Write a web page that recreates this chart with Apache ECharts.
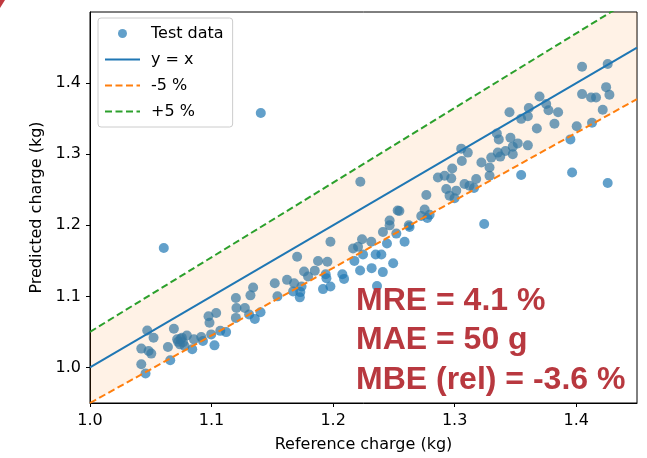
<!DOCTYPE html>
<html>
<head>
<meta charset="utf-8">
<script src="https://cdn.jsdelivr.net/npm/echarts@6/dist/echarts.min.js"></script>
<style>html,body{margin:0;padding:0;background:#fff;}#c{width:647px;height:458px;}</style>
</head>
<body>
<div id="c"></div>
<script>
// ---- data ----
var xTicks = [1.0, 1.1, 1.2, 1.3, 1.4];
var yTicks = [1.0, 1.1, 1.2, 1.3, 1.4];
var lineX = [1.0, 1.45];
var lowerFactor = 0.95;
var upperFactor = 1.05;
var testData = [
  [1.0422,1.0046],[1.0457,0.9916],[1.0422,1.0265],[1.0482,1.0232],[1.0504,1.0195],[1.0471,1.052],[1.0523,1.0418],
  [1.0641,1.0288],[1.066,1.0102],[1.069,1.0544],[1.0717,1.0395],[1.074,1.0325],[1.0756,1.0418],[1.0778,1.0302],
  [1.0797,1.045],[1.0841,1.0255],[1.0855,1.0395],[1.0915,1.0428],[1.0929,1.0372],[1.0975,1.0721],[1.0983,1.0628],
  [1.0997,1.0465],[1.1024,1.0311],[1.1038,1.0767],[1.0725,1.036],[1.0765,1.0355],[1.0745,1.040],[1.1072,1.0515],[1.112,1.0497],
  [1.12,1.0976],[1.1205,1.0837],[1.12,1.0697],[1.1274,1.0837],[1.132,1.1014],[1.1342,1.1125],[1.1309,1.0744],[1.1356,1.0683],
  [1.1403,1.0777],[1.152,1.1185],[1.1542,1.1],[1.1621,1.1232],[1.1671,1.107],[1.1679,1.1185],[1.1704,1.1558],[1.1726,1.0986],
  [1.174,1.1139],[1.173,1.106],[1.1761,1.1349],[1.1794,1.1279],[1.1849,1.1362],[1.1876,1.1497],[1.1953,1.1488],[1.1978,1.1767],
  [1.1917,1.1102],[1.1978,1.1139],[1.1945,1.1255],[1.1939,1.1311],[1.2076,1.1311],[1.209,1.1246],
  [1.2164,1.1674],[1.2205,1.1697],[1.2238,1.1803],[1.2246,1.159],[1.2175,1.1499],[1.2222,1.1364],[1.2317,1.1397],[1.2361,1.1146],
  [1.235,1.159],[1.2397,1.159],[1.2409,1.1341],[1.2494,1.1466],[1.2314,1.1767],[1.2443,1.1743],[1.241,1.1906],[1.2465,1.1999],
  [1.2465,1.2068],[1.252,1.1883],[1.2531,1.2209],[1.2545,1.22],[1.2588,1.1767],[1.2629,1.1976],[1.2623,1.2],[1.2725,1.213],
  [1.2753,1.2222],[1.2767,1.2427],[1.2775,1.2102],[1.2794,1.2148],[1.2862,1.2673],[1.2917,1.2696],[1.2972,1.266],[1.2931,1.251],
  [1.298,1.2799],[1.2958,1.2417],[1.2999,1.238],[1.3013,1.2487],[1.3054,1.3078],[1.3059,1.2905],[1.3108,1.3022],[1.3081,1.258],
  [1.3122,1.2557],[1.3159,1.2524],[1.3177,1.265],[1.322,1.2883],[1.3287,1.2813],[1.3287,1.2696],[1.3301,1.2952],[1.3347,1.3291],
  [1.3363,1.3208],[1.3355,1.3022],[1.3375,1.2966],[1.3418,1.3045],[1.3459,1.3231],[1.3478,1.3106],[1.3478,1.2999],[1.3519,1.3152],
  [1.3602,1.3124],[1.3451,1.3589],[1.3547,1.3497],[1.3602,1.3533],[1.361,1.365],[1.3676,1.3361],[1.3698,1.3812],[1.3753,1.3706],
  [1.3772,1.3617],[1.3821,1.3427],[1.3851,1.3589],[1.4004,1.3393],[1.4048,1.423],[1.4048,1.3845],[1.4122,1.3798],[1.4163,1.3798],
  [1.413,1.3441],[1.4218,1.3626],[1.4246,1.3943],[1.4273,1.3835],[1.4259,1.4268],
  [1.1405,1.358],[1.0607,1.168],[1.2224,1.2612],[1.3243,1.2019],[1.3547,1.2706],[1.3952,1.3208],[1.3966,1.2743],[1.4259,1.2594]
];
var statLines = ['MRE = 4.1 %', 'MAE = 50 g', 'MBE (rel) = -3.6 %'];

// ---- chart ----
function lineData(f) { return lineX.map(function (x) { return [x, x * f]; }); }
var font = 'DejaVu Sans';
var chart = echarts.init(document.getElementById('c'), null, {renderer: 'canvas'});
var textGraphics = statLines.map(function (t, i) {
  return {type: 'text', left: 356, top: 285 + i * 39.5, z: 100,
    style: {text: t, font: 'bold 32px "Liberation Sans", Arial, sans-serif', fill: '#b8383f'}};
});
textGraphics.push({type: 'polygon', z: 100, shape: {points: [[0,0],[5,0],[0,8]]}, style: {fill: '#c0393f'}});
var hidden = {opacity: 0};
chart.setOption({
  animation: false,
  backgroundColor: '#fff',
  grid: {left: 90, right: 10, top: 12, bottom: 53, show: true, borderColor: '#000', borderWidth: 1, backgroundColor: 'transparent'},
  xAxis: {
    type: 'value', min: 1.0, max: 1.45,
    name: 'Reference charge (kg)', nameLocation: 'middle', nameGap: 34,
    nameTextStyle: {fontFamily: font, fontSize: 16, color: '#000'},
    axisLine: {show: true, lineStyle: {color: '#000', width: 1}},
    axisTick: {show: true, length: 4, lineStyle: {color: '#000'}, customValues: xTicks},
    axisLabel: {fontFamily: font, fontSize: 16, color: '#000', margin: 10, customValues: xTicks,
      formatter: function (v) { return v.toFixed(1); }},
    splitLine: {show: false}
  },
  yAxis: {
    type: 'value', min: 0.95, max: 1.5,
    name: 'Predicted charge (kg)', nameLocation: 'middle', nameGap: 44,
    nameTextStyle: {fontFamily: font, fontSize: 16, color: '#000'},
    axisLine: {show: true, lineStyle: {color: '#000', width: 1}},
    axisTick: {show: true, length: 4, lineStyle: {color: '#000'}, customValues: yTicks},
    axisLabel: {fontFamily: font, fontSize: 16, color: '#000', margin: 9, customValues: yTicks,
      formatter: function (v) { return v.toFixed(1); }},
    splitLine: {show: false}
  },
  legend: {
    orient: 'vertical', left: 98, top: 18,
    padding: [6, 9, 6, 6], itemGap: 7, itemWidth: 35, itemHeight: 9,
    backgroundColor: 'rgba(255,255,255,0.8)', borderColor: '#cccccc', borderWidth: 1, borderRadius: 3,
    textStyle: {fontFamily: font, fontSize: 16, color: '#000', lineHeight: 19, padding: [0, 0, 0, 6]},
    z: 50,
    data: [
      {name: 'Test data', icon: 'circle'},
      {name: 'y = x', itemStyle: hidden},
      {name: '-5 %', itemStyle: hidden},
      {name: '+5 %', itemStyle: hidden}
    ]
  },
  graphic: textGraphics,
  series: [
    {
      name: 'Test data', type: 'scatter', data: testData, symbolSize: 10, z: 1,
      itemStyle: {color: '#1f77b4', opacity: 0.7}
    },
    {
      name: 'band', type: 'custom', z: 2, silent: true, data: [[lineX[0], lineX[1]]],
      renderItem: function (params, api) {
        var pts = [[lineX[0], lineX[0] * lowerFactor], [lineX[1], lineX[1] * lowerFactor],
                   [lineX[1], lineX[1] * upperFactor], [lineX[0], lineX[0] * upperFactor]].map(function (p) { return api.coord(p); });
        var cs = params.coordSys;
        return {type: 'group', clipPath: {type: 'rect', shape: {x: cs.x, y: cs.y, width: cs.width, height: cs.height}},
          children: [{type: 'polygon', shape: {points: pts}, style: {fill: 'rgba(255,127,14,0.1)', stroke: null}}]};
      }
    },
    {
      name: 'y = x', type: 'line', data: lineData(1), symbol: 'none', z: 3,
      lineStyle: {color: '#1f77b4', width: 2}, itemStyle: {color: '#1f77b4'}
    },
    {
      name: '-5 %', type: 'line', data: lineData(lowerFactor), symbol: 'none', z: 3,
      lineStyle: {color: '#ff7f0e', width: 2, type: [7, 3.5]}, itemStyle: {color: '#ff7f0e'}
    },
    {
      name: '+5 %', type: 'line', data: lineData(upperFactor), symbol: 'none', z: 3,
      lineStyle: {color: '#2ca02c', width: 2, type: [7, 3.5]}, itemStyle: {color: '#2ca02c'}
    }
  ]
});
</script>
</body>
</html>
